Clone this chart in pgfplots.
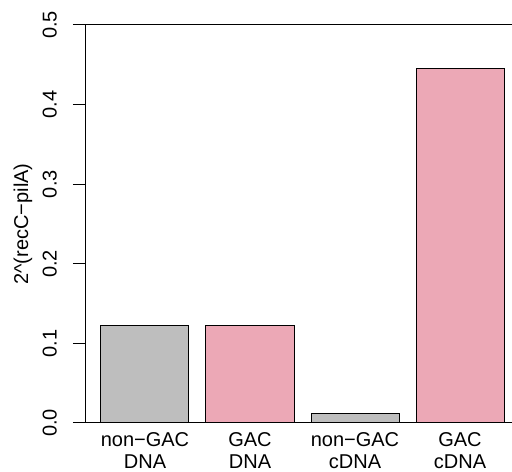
\documentclass[border=0pt]{standalone}
\usepackage{fontspec}
\setmainfont{Liberation Sans}
\usepackage{pgfplots}
\pgfplotsset{compat=1.18}

\definecolor{barGray}{RGB}{190,190,190}
\definecolor{barPink}{RGB}{236,168,182}

\begin{document}
\begin{tikzpicture}
\begin{axis}[
  scale only axis,
  width=426pt, height=398pt,
  xmin=0, xmax=426,
  ymin=0, ymax=0.5,
  axis x line*=bottom,
  axis y line*=left,
  axis line style={-, line width=1pt},
  tick align=outside,
  major tick length=13pt,
  ytick={0,0.1,0.2,0.3,0.4,0.5},
  ytick style={line width=1pt, black},
  xtick={59,164,269,374},
  xtick style={draw=none},
  xticklabels={non\textminus GAC\\DNA, GAC\\DNA, non\textminus GAC\\cDNA, GAC\\cDNA},
  font=\fontsize{20}{22.5}\selectfont,
  /pgf/number format/assume math mode=true,
  yticklabel style={/pgf/number format/.cd, fixed, fixed zerofill, precision=1,
    /tikz/.cd, xshift=-16pt, rotate=90, anchor=south, inner sep=0pt},
  xticklabel style={align=center, anchor=north, inner sep=0pt, yshift=4pt},
  ylabel={2\string^(recC\textminus pilA)},
  ylabel style={at={([xshift=-63pt]axis description cs:0,0.5)}, anchor=center, inner sep=0pt},
  ybar, bar width=88, bar shift=0pt,
  clip=false,
]
% grey: non-GAC samples
\addplot[fill=barGray, draw=black, line width=1pt] coordinates {(59,0.1222) (269,0.0113)};
% pink: GAC samples
\addplot[fill=barPink, draw=black, line width=1pt] coordinates {(164,0.1220) (374,0.4456)};
% upper rule at 0.5
\draw[line width=1pt] (rel axis cs:0,1) -- (rel axis cs:1,1);
\coordinate (LL) at (rel axis cs:0,0);
\coordinate (UR) at (rel axis cs:1,1);
\end{axis}
\pgfresetboundingbox
\path[use as bounding box] ([xshift=-86pt,yshift=-49pt]LL) rectangle ([yshift=25pt]UR);
\end{tikzpicture}
\end{document}
